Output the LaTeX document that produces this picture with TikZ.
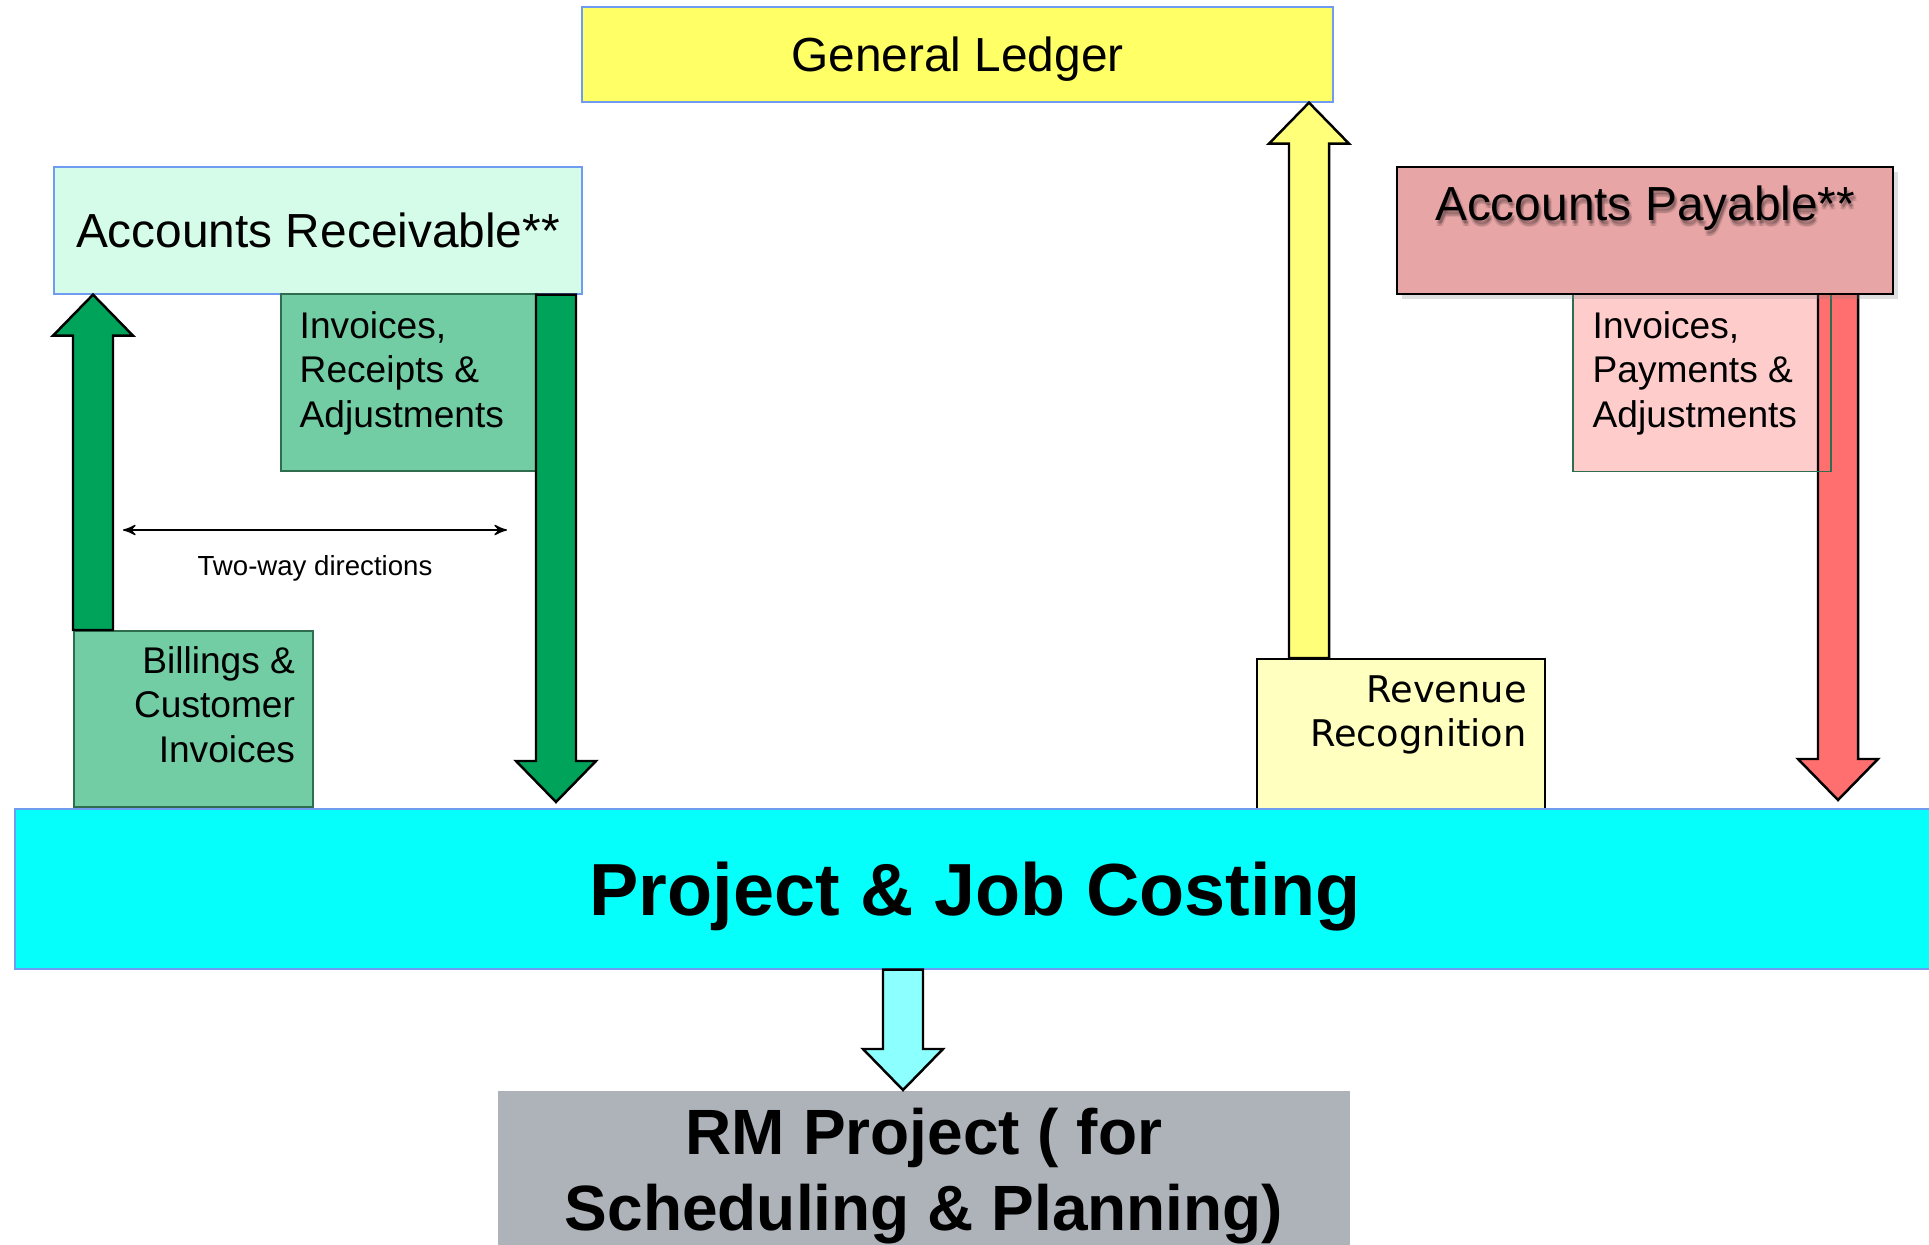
\documentclass[tikz,border=0pt]{standalone}
\usepackage{fontspec}
\setmainfont{Liberation Sans}
\newfontfamily\verdanafont{DejaVu Sans}
\usepackage{tikz}
\usetikzlibrary{arrows,shapes,positioning,shadows,calc}

\definecolor{ledgerfill}{HTML}{FFFF66}
\definecolor{arfill}{HTML}{D4FCE9}
\definecolor{edgeblue}{HTML}{6F9CF1}
\definecolor{edgegreen}{HTML}{2E6E4E}
\definecolor{darkgreen}{HTML}{00A35A}
\definecolor{midgreen}{HTML}{72CCA4}
\definecolor{yellowarrow}{HTML}{FFFF7A}
\definecolor{revfill}{HTML}{FFFFC0}
\definecolor{apfill}{HTML}{E8A5A6}
\definecolor{redarrow}{HTML}{FF6F6F}
\definecolor{ipafill}{HTML}{FFCCCC}
\definecolor{pjcfill}{HTML}{05FFFA}
\definecolor{cyanarrow}{HTML}{8CFFFF}
\definecolor{rmfill}{HTML}{ADB3B9}

\newcommand{\bigfont}{\fontsize{13.6}{16}\selectfont}
\newcommand{\smallfont}{\fontsize{10.56}{12.6}\selectfont}
\newcommand{\shaftw}{0.2cm}
\newcommand{\headw}{0.4cm}
\newcommand{\headl}{0.41cm}

\tikzstyle{box}=[rectangle, anchor=north west, inner sep=0pt, line width=0.45pt]
\tikzstyle{blue box}=[box, draw=edgeblue]
\tikzstyle{green box}=[box, draw=edgegreen, fill=midgreen]
\tikzstyle{label text}=[inner sep=0pt, font=\smallfont]
\tikzstyle{block arrow}=[draw=black, line width=0.7pt, line join=miter]

% vertical block arrow from #2 to #3
\newcommand{\blockarrow}[3][]{%
  \draw[block arrow,#1] let \p1=#2, \p2=#3, \n1={ifthenelse(\y2>\y1,1,-1)*\headl} in
    ({\x1-\shaftw},\y1) -- ({\x1-\shaftw},{\y2-\n1}) -- ({\x1-\headw},{\y2-\n1})
    -- (\x1,\y2) -- ({\x1+\headw},{\y2-\n1}) -- ({\x1+\shaftw},{\y2-\n1})
    -- ({\x1+\shaftw},\y1) -- cycle;}

\begin{document}
\begin{tikzpicture}[x=0.01cm, y=-0.01cm]
    \useasboundingbox (0,0) rectangle (1929,1245);
    \clip (0,0) rectangle (1929,1245);

    % Boxes
    \node[blue box, fill=ledgerfill, minimum width=7.51cm, minimum height=0.95cm,
          text depth=0pt, font=\bigfont] (GL) at (581,6) {General Ledger};
    \node[blue box, fill=arfill, minimum width=5.28cm, minimum height=1.27cm,
          text depth=0pt, font=\bigfont] (AR) at (53,166) {Accounts Receivable**};
    \node[green box, minimum width=2.56cm, minimum height=1.77cm] (IRA) at (280,293) {};
    \node[green box, minimum width=2.39cm, minimum height=1.76cm] (BCI) at (73,630) {};
    \node[box, draw=black, fill=revfill, line width=0.6pt, minimum width=2.88cm,
          minimum height=1.5cm] (RR) at (1256,658) {};
    \node[box, fill=ipafill, minimum width=2.56cm, minimum height=1.77cm] (IPA) at (1573,293) {};
    \node[blue box, fill=pjcfill, minimum width=19.2cm, minimum height=1.6cm, text depth=0pt,
          font=\fontsize{21}{25}\selectfont\bfseries] (PJC) at (14,808) {Project \& Job Costing};
    \node[box, anchor=north, fill=rmfill, minimum width=8.52cm, inner ysep=0.17cm, align=center,
          font=\fontsize{18.2}{21.6}\selectfont\bfseries] (RM) at (924,1090)
          {RM Project ( for\\Scheduling \& Planning)};

    % Arrow positions
    \coordinate (gup) at (93,0);
    \coordinate (gdn) at (556,0);
    \coordinate (yup) at (1309,0);
    \coordinate (rdn) at (1838,0);
    \coordinate (cdn) at (903,0);
    \coordinate (gdntip) at (556,802);
    \coordinate (rdntip) at (1838,800);

    % Block arrows
    \blockarrow[fill=darkgreen]{(BCI.north -| gup)}{(AR.south -| gup)}
    \blockarrow[fill=darkgreen]{(AR.south -| gdn)}{(gdntip)}
    \blockarrow[fill=yellowarrow]{(RR.north -| yup)}{(GL.south -| yup)}
    \blockarrow[fill=redarrow]{(IPA.north -| rdn)}{(rdntip)}
    \blockarrow[fill=cyanarrow]{(PJC.south -| cdn)}{(RM.north -| cdn)}
    \draw[edgegreen, line width=0.45pt] (IPA.north west) rectangle (IPA.south east);

    \node[box, draw=black, fill=apfill, line width=0.6pt, minimum width=4.96cm, minimum height=1.27cm,
          drop shadow={shadow xshift=0.05cm, shadow yshift=-0.05cm, opacity=0.25}] (AP) at (1396,166) {};

    % Texts
    \node[label text, align=left, below right=0.18cm and 0.19cm of IRA.north west] (IRAtext)
        {Invoices,\\Receipts \&\\Adjustments};
    \node[label text, align=right, below left=0.16cm and 0.18cm of BCI.north east] (BCItext)
        {Billings \&\\Customer\\Invoices};
    \node[label text, align=left, below right=0.18cm and 0.19cm of IPA.north west] (IPAtext)
        {Invoices,\\Payments \&\\Adjustments};
    \node[inner sep=0pt, align=right, font=\verdanafont\fontsize{10.45}{12.5}\selectfont,
          below left=0.17cm and 0.19cm of RR.north east] (RRtext) {Revenue\\Recognition};
    % soft text shadow
    \foreach \dx/\dy in {0.01/0.03, 0.03/0.03, 0.01/0.06, 0.03/0.06, 0.02/0.045}
        \node[inner sep=0pt, font=\bigfont, text=black, opacity=0.1,
              below=0.19cm+\dy cm of AP.north, xshift=\dx cm] {Accounts Payable**};
    \node[inner sep=0pt, font=\bigfont, below=0.19cm of AP.north] (APtext) {Accounts Payable**};

    % Two-way
    \coordinate (twl) at (123,530);
    \coordinate (twr) at (507,530);
    \draw[<->, >=stealth', line width=0.4pt] (twl) -- (twr);
    \node[inner sep=0pt, font=\fontsize{7.85}{9}\selectfont] (TW) at (315,568) {Two-way directions};
\end{tikzpicture}
\end{document}
